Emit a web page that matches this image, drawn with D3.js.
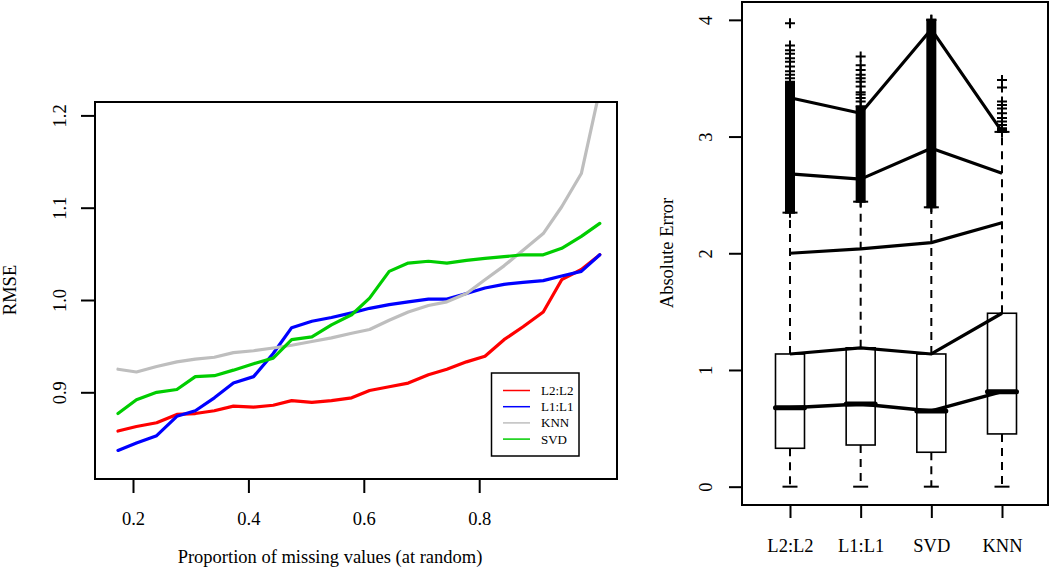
<!DOCTYPE html>
<html>
<head>
<meta charset="utf-8">
<script src="https://cdn.jsdelivr.net/npm/d3@7"></script>
<style>
  html, body { margin: 0; padding: 0; background: #fff; }
  svg { display: block; }
  text { font-family: "Liberation Serif", "DejaVu Serif", serif; fill: #000; }
</style>
</head>
<body>
<svg id="chart" width="1050" height="579"></svg>
<script>
// ---------------- DATA ----------------
// Left panel: RMSE vs proportion of missing values
const propMissing = [0.174, 0.206, 0.241, 0.276, 0.308, 0.341, 0.374, 0.409, 0.443, 0.475, 0.510, 0.544, 0.579,
                     0.610, 0.644, 0.677, 0.712, 0.744, 0.778, 0.810, 0.843, 0.876, 0.911, 0.943, 0.977, 1.009];
const rmseL2L2 = [0.858, 0.863, 0.867, 0.876, 0.877, 0.880, 0.885, 0.884, 0.886, 0.891, 0.889, 0.891, 0.894,
                  0.902, 0.906, 0.910, 0.919, 0.925, 0.933, 0.939, 0.957, 0.971, 0.987, 1.022, 1.033, 1.049];
const rmseL1L1 = [0.837, 0.845, 0.853, 0.874, 0.880, 0.894, 0.910, 0.917, 0.942, 0.970, 0.977, 0.981, 0.986,
                  0.991, 0.995, 0.998, 1.001, 1.001, 1.007, 1.013, 1.017, 1.019, 1.021, 1.026, 1.031, 1.049];
const rmseKNN  = [0.925, 0.922, 0.928, 0.933, 0.936, 0.938, 0.943, 0.945, 0.948, 0.951, 0.955, 0.959, 0.964,
                  0.968, 0.978, 0.987, 0.994, 0.998, 1.007, 1.022, 1.037, 1.054, 1.072, 1.101, 1.137, 1.228];
const rmseSVD  = [0.877, 0.892, 0.900, 0.903, 0.917, 0.918, 0.924, 0.931, 0.937, 0.957, 0.960, 0.973, 0.984,
                  1.002, 1.031, 1.040, 1.042, 1.040, 1.043, 1.045, 1.047, 1.049, 1.049, 1.056, 1.069, 1.083];
const seriesNames = ["L2:L2", "L1:L1", "KNN", "SVD"];
const seriesColors = ["#ff0000", "#0000ff", "#bebebe", "#00cd00"];
const leftXTicks = [0.2, 0.4, 0.6, 0.8];
const leftYTicks = [0.9, 1.0, 1.1, 1.2];
const leftXLabel = "Proportion of missing values (at random)";
const leftYLabel = "RMSE";

// Right panel: absolute error boxplots
const methods     = ["L2:L2", "L1:L1", "SVD", "KNN"];
const boxQ1       = [0.329, 0.357, 0.295, 0.452];
const boxMedian   = [0.677, 0.709, 0.649, 0.814];
const boxQ3       = [1.137, 1.190, 1.137, 1.486];
const whiskerLow  = [0, 0, 0, 0];
const whiskerHigh = [2.348, 2.442, 2.394, 3.040];
const quantLineA  = [2.000, 2.037, 2.091, 2.262];
const quantLineB  = [2.680, 2.635, 2.900, 2.686];
const quantLineC  = [3.333, 3.200, 3.919, 3.042];
// dense runs of outliers (drawn as a solid column of "+") and individual outliers
const outlierDenseTop = [3.47, 3.26, 4.00, 3.07];
const outlierSparse = [
  [3.50, 3.53, 3.56, 3.60, 3.64, 3.67, 3.71, 3.74, 3.78, 3.97],
  [3.30, 3.33, 3.36, 3.38, 3.43, 3.47, 3.50, 3.53, 3.57, 3.61, 3.685],
  [4.00],
  [3.05, 3.07, 3.10, 3.13, 3.16, 3.20, 3.24, 3.27, 3.30, 3.42, 3.485]
];
const rightYTicks = [0, 1, 2, 3, 4];
const rightYLabel = "Absolute Error";

// ---------------- LAYOUT ----------------
const svg = d3.select("#chart");
const FS = 18.5;

// Left panel
const L = {x0: 95, x1: 617, y0: 102, y1: 479};
const xL = d3.scaleLinear().domain([0.13414, 1.03882]).range([L.x0, L.x1]);
const yL = d3.scaleLinear().domain([0.80607, 1.21452]).range([L.y1, L.y0]);

svg.append("clipPath").attr("id", "clipL").append("rect")
  .attr("x", L.x0).attr("y", L.y0).attr("width", L.x1 - L.x0).attr("height", L.y1 - L.y0);

const rmseSeries = [rmseL2L2, rmseL1L1, rmseKNN, rmseSVD];
const lineGen = d3.line().x((d, i) => xL(propMissing[i])).y(d => yL(d));
const gLines = svg.append("g").attr("clip-path", "url(#clipL)");
rmseSeries.forEach((s, k) => {
  gLines.append("path").datum(s).attr("d", lineGen)
    .attr("fill", "none").attr("stroke", seriesColors[k]).attr("stroke-width", 3.2)
    .attr("stroke-linejoin", "round").attr("stroke-linecap", "round");
});

svg.append("rect").attr("x", L.x0).attr("y", L.y0).attr("width", L.x1 - L.x0).attr("height", L.y1 - L.y0)
  .attr("fill", "none").attr("stroke", "#000").attr("stroke-width", 2);

// left x axis
const gxL = svg.append("g").attr("transform", `translate(0,${L.y1})`)
  .call(d3.axisBottom(xL).tickValues(leftXTicks).tickSize(14).tickPadding(18).tickFormat(d3.format(".1f")));
gxL.select(".domain").remove();
gxL.selectAll(".tick line").attr("stroke", "#000").attr("stroke-width", 2);
gxL.selectAll(".tick text").attr("font-size", FS).attr("font-family", "Liberation Serif").attr("dy", null)
  .attr("y", 46);

// left y axis
const gyL = svg.append("g").attr("transform", `translate(${L.x0},0)`)
  .call(d3.axisLeft(yL).tickValues(leftYTicks).tickSize(14).tickFormat(d3.format(".1f")));
gyL.select(".domain").remove();
gyL.selectAll(".tick line").attr("stroke", "#000").attr("stroke-width", 2);
gyL.selectAll(".tick text").attr("font-size", FS).attr("font-family", "Liberation Serif")
  .attr("x", 0).attr("dy", null).attr("text-anchor", "middle")
  .attr("transform", "translate(-29,0) rotate(-90)");

svg.append("text").attr("x", 330).attr("y", 563).attr("text-anchor", "middle")
  .attr("font-size", FS).text(leftXLabel);
svg.append("text").attr("transform", "translate(16,290) rotate(-90)").attr("text-anchor", "middle")
  .attr("font-size", FS).text(leftYLabel);

// legend
const leg = svg.append("g");
leg.append("rect").attr("x", 491.5).attr("y", 373).attr("width", 87.5).attr("height", 83)
  .attr("fill", "#fff").attr("stroke", "#000").attr("stroke-width", 1.5);
seriesNames.forEach((n, k) => {
  const yy = 390.5 + k * 16.2;
  leg.append("line").attr("x1", 503).attr("x2", 530).attr("y1", yy).attr("y2", yy)
    .attr("stroke", seriesColors[k]).attr("stroke-width", 1.5);
  leg.append("text").attr("x", 541).attr("y", yy + 4.5).attr("font-size", 13).text(n);
});

// Right panel
const R = {x0: 742, x1: 1048, y0: 2, y1: 505};
const xR = d3.scaleLinear().domain([0.3208, 4.651]).range([R.x0, R.x1]);
const yR = d3.scaleLinear().domain([-0.157, 4.153]).range([R.y1, R.y0]);
const pos = methods.map((m, i) => i + 1);
const boxHalf = 14.5, capHalf = 7.5, plusHalf = 5;

const gB = svg.append("g");
methods.forEach((m, i) => {
  const cx = xR(pos[i]);
  // whiskers
  [[boxQ1[i], whiskerLow[i]], [boxQ3[i], whiskerHigh[i]]].forEach(([a, b]) => {
    gB.append("line").attr("x1", cx).attr("x2", cx).attr("y1", yR(a)).attr("y2", yR(b))
      .attr("stroke", "#000").attr("stroke-width", 2).attr("stroke-dasharray", "8,6");
  });
  [whiskerLow[i], whiskerHigh[i]].forEach(v => {
    gB.append("line").attr("x1", cx - capHalf).attr("x2", cx + capHalf).attr("y1", yR(v)).attr("y2", yR(v))
      .attr("stroke", "#000").attr("stroke-width", 2);
  });
  // box
  gB.append("rect").attr("x", cx - boxHalf).attr("y", yR(boxQ3[i]))
    .attr("width", 2 * boxHalf).attr("height", yR(boxQ1[i]) - yR(boxQ3[i]))
    .attr("fill", "#fff").attr("stroke", "#000").attr("stroke-width", 1.6);
  // median
  gB.append("line").attr("x1", cx - boxHalf).attr("x2", cx + boxHalf)
    .attr("y1", yR(boxMedian[i])).attr("y2", yR(boxMedian[i]))
    .attr("stroke", "#000").attr("stroke-width", 5).attr("stroke-linecap", "round");
  // dense outliers
  gB.append("rect").attr("x", cx - plusHalf).attr("y", yR(outlierDenseTop[i]))
    .attr("width", 2 * plusHalf).attr("height", yR(whiskerHigh[i]) - yR(outlierDenseTop[i]))
    .attr("fill", "#000");
  // individual outliers as "+"
  outlierSparse[i].concat([outlierDenseTop[i], whiskerHigh[i]]).forEach(v => {
    const py = yR(v);
    gB.append("path").attr("d", `M${cx - plusHalf},${py}H${cx + plusHalf}M${cx},${py - plusHalf}V${py + plusHalf}`)
      .attr("stroke", "#000").attr("stroke-width", 2).attr("fill", "none");
  });
});

// connecting quantile lines
const qLine = d3.line().x((d, i) => xR(pos[i])).y(d => yR(d));
[boxMedian, boxQ3, quantLineA, quantLineB, quantLineC].forEach((arr, k) => {
  svg.append("path").datum(arr).attr("d", qLine).attr("fill", "none")
    .attr("stroke", "#000").attr("stroke-width", k === 0 ? 3.5 : 3.2).attr("stroke-linejoin", "round");
});

svg.append("rect").attr("x", R.x0).attr("y", R.y0).attr("width", R.x1 - R.x0).attr("height", R.y1 - R.y0)
  .attr("fill", "none").attr("stroke", "#000").attr("stroke-width", 2);

// right x axis
const gxR = svg.append("g").attr("transform", `translate(0,${R.y1})`)
  .call(d3.axisBottom(xR).tickValues(pos).tickSize(13).tickFormat((d, i) => methods[i]));
gxR.select(".domain").remove();
gxR.selectAll(".tick line").attr("stroke", "#000").attr("stroke-width", 2);
gxR.selectAll(".tick text").attr("font-size", FS).attr("font-family", "Liberation Serif").attr("dy", null)
  .attr("y", 47);

// right y axis
const gyR = svg.append("g").attr("transform", `translate(${R.x0},0)`)
  .call(d3.axisLeft(yR).tickValues(rightYTicks).tickSize(13).tickFormat(d3.format("d")));
gyR.select(".domain").remove();
gyR.selectAll(".tick line").attr("stroke", "#000").attr("stroke-width", 2);
gyR.selectAll(".tick text").attr("font-size", FS).attr("font-family", "Liberation Serif")
  .attr("x", 0).attr("dy", null).attr("text-anchor", "middle")
  .attr("transform", "translate(-30,0) rotate(-90)");

svg.append("text").attr("transform", "translate(673,253) rotate(-90)").attr("text-anchor", "middle")
  .attr("font-size", FS).text(rightYLabel);
</script>
</body>
</html>
